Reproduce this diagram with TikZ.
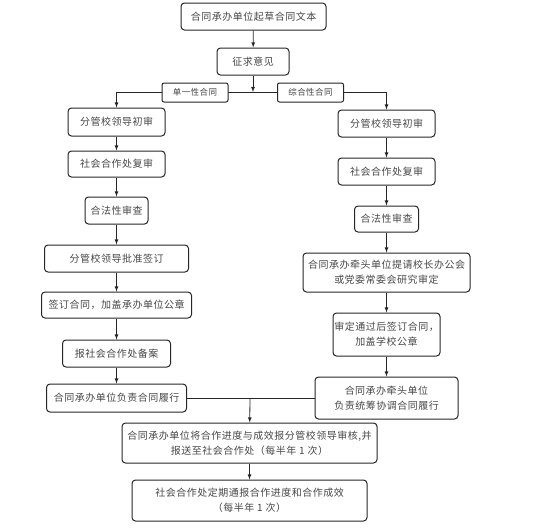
\documentclass[tikz,border=0pt]{standalone}
\usepackage{fontspec}
\newfontfamily\songti[LetterSpace=5]{Noto Sans CJK SC}
\usetikzlibrary{arrows}

\begin{document}
\begin{tikzpicture}[
      x=1pt, y=-1pt,
      every node/.style={font=\songti\fontsize{10}{15}\selectfont, text=black!72},
      box/.style={draw=black!85, line width=1pt, rounded corners=3.5pt, align=center, inner sep=0pt},
      tag/.style={draw=black!85, line width=1pt, rounded corners=2pt, fill=white, inner sep=0pt,
                  minimum width=66pt, minimum height=19pt, font=\songti\fontsize{8.5}{10}\selectfont},
      flow/.style={draw=black!85, line width=0.8pt, -latex}
      ]
      \useasboundingbox (0,0) rectangle (553,528);
      % main trunk
      \node[box, minimum width=145pt, minimum height=27pt] (draft) at (253.5,16.5) {合同承办单位起草合同文本};
      \node[box, minimum width=72pt, minimum height=27pt] (advice) at (253,61.5) {征求意见};
      \coordinate (split) at (253,92);
      % single contract branch
      \node[box, minimum width=97pt, minimum height=28pt] (l1) at (116.5,122) {分管校领导初审};
      \node[box, minimum width=97pt, minimum height=26pt] (l2) at (116.5,164) {社会合作处复审};
      \node[box, minimum width=63pt, minimum height=27pt] (l3) at (116.5,210.5) {合法性审查};
      \node[box, minimum width=144pt, minimum height=27pt] (l4) at (116.5,258.5) {分管校领导批准签订};
      \node[box, minimum width=150pt, minimum height=26pt] (l5) at (116.5,305) {签订合同，加盖承办单位公章};
      \node[box, minimum width=108pt, minimum height=27pt] (l6) at (116.5,353.5) {报社会合作处备案};
      \node[box, minimum width=140pt, minimum height=28pt] (l7) at (116.5,398) {合同承办单位负责合同履行};
      % comprehensive contract branch
      \node[box, minimum width=97pt, minimum height=27pt] (r1) at (386.5,123.5) {分管校领导初审};
      \node[box, minimum width=97pt, minimum height=27pt] (r2) at (386.5,171.5) {社会合作处复审};
      \node[box, minimum width=64pt, minimum height=26pt] (r3) at (386.5,219) {合法性审查};
      \node[box, minimum width=167pt, minimum height=39pt] (r4) at (386.5,272.5) {合同承办牵头单位提请校长办公会\\或党委常委会研究审定};
      \node[box, minimum width=107pt, minimum height=43pt] (r5) at (386.5,334.5) {审定通过后签订合同，\\加盖学校公章};
      \node[box, minimum width=143pt, minimum height=42pt] (r6) at (386.5,398) {合同承办牵头单位\\负责统筹协调合同履行};
      % merge
      \coordinate (merge) at (250,398);
      \node[box, minimum width=255pt, minimum height=40pt] (report) at (249.5,443) {合同承办单位将合作进度与成效报分管校领导审核,并\\报送至社会合作处（每半年 1 次）};
      \node[box, minimum width=235pt, minimum height=41pt] (notify) at (249.5,500.5) {社会合作处定期通报合作进度和合作成效\\（每半年 1 次）};

      \draw[flow] (draft) -- (advice);
      \draw[flow] (advice) -- (split);
      \draw[flow] (split) -| (l1);
      \draw[flow] (split) -| (r1);
      \node[tag] (single) at (195,92.5) {单一性合同};
      \node[tag] (multi) at (310.5,92.5) {综合性合同};
      \draw[flow] (l1) -- (l2);
      \draw[flow] (l2) -- (l3);
      \draw[flow] (l3) -- (l4);
      \draw[flow] (l4) -- (l5);
      \draw[flow] (l5) -- (l6);
      \draw[flow] (l6) -- (l7);
      \draw[flow] (r1) -- (r2);
      \draw[flow] (r2) -- (r3);
      \draw[flow] (r3) -- (r4);
      \draw[flow] (r4) -- (r5);
      \draw[flow] (r5) -- (r6);
      \draw[draw=black!85, line width=0.8pt] (l7) -- (r6);
      \draw[flow] (merge) -- (report);
      \draw[flow] (report) -- (notify);
    \end{tikzpicture}
\end{document}
